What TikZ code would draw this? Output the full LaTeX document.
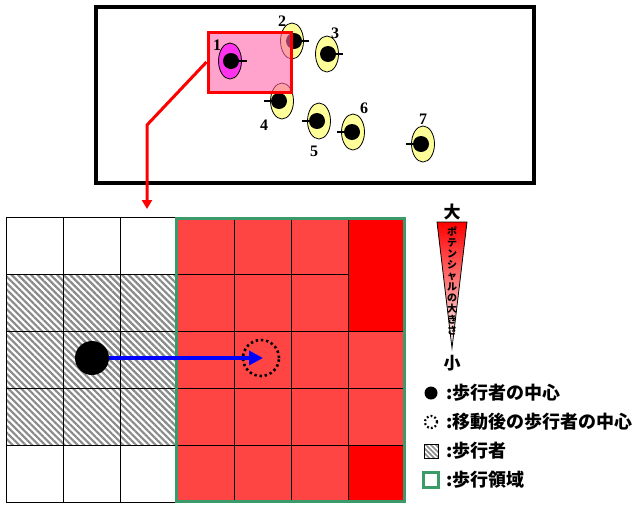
\documentclass[tikz,border=0pt]{standalone}
\usepackage{fontspec}
\setmainfont{Liberation Serif}
\newfontfamily\jp{Noto Sans CJK JP}
\usetikzlibrary{patterns,patterns.meta,shapes.geometric,arrows.meta}
\definecolor{cellred}{HTML}{FF4444}
\definecolor{pedyellow}{HTML}{FFFF99}
\definecolor{pedmag}{HTML}{FF33EE}
\definecolor{areagreen}{HTML}{3A9A6A}
\definecolor{selpink}{RGB}{255,100,170}
\definecolor{hatchgray}{HTML}{8A8A8A}
\tikzset{
  ped/.style={ellipse, draw=black, line width=0.8pt, minimum width=23, minimum height=36, inner sep=0pt},
  pdot/.style={circle, fill=black, minimum size=16, inner sep=0pt},
  tick/.style={black, line width=1.5pt},
  numlabel/.style={font=\bfseries\fontsize{16}{16}\selectfont, inner sep=0pt},
  gridcell/.style={draw=black, line width=0.8pt},
  hatchcell/.style={gridcell, pattern={Lines[angle=-45,distance=4.6pt,line width=2.2pt]}, pattern color=hatchgray},
  legtext/.style={anchor=west, inner sep=0pt, font=\jp\bfseries\fontsize{18}{18}\selectfont},
}
\begin{document}
\begin{tikzpicture}[x=1pt,y=-1pt]
\useasboundingbox (0,0) rectangle (637,504);
\fill[white] (0,0) rectangle (637,504);
% top frame
\draw[black, line width=3.5pt] (96,7) rectangle (534,183);
% pedestrians 2..7
\foreach \n/\x/\y/\dx/\dir in {2/292/41/2/1, 3/327/54/1/1, 4/282/101/-3/-1, 5/319/121/-2/-1, 6/353/132/-1/-1, 7/423/144/-2/-1}{
  \node[ped, fill=pedyellow] (p\n) at (\x,\y) {};
  \node[pdot] (d\n) at (\x+\dx,\y) {};
  \draw[tick] (d\n.center) -- ++(\dir*15,0);
}
% selection rectangle
\node[draw=red, line width=3pt, fill=selpink, fill opacity=0.6, minimum width=83, minimum height=60, inner sep=0pt] (sel) at (249.5,62) {};
% pedestrian 1
\node[ped, fill=pedmag] (p1) at (230,61) {};
\node[pdot] (d1) at (231,61) {};
\draw[tick] (d1.center) -- ++(16,0);
% labels
\foreach \n/\x/\y in {1/217/45, 2/282/21, 3/335/33, 4/264/125, 5/314/151, 6/364/108, 7/423/119}{
  \node[numlabel] (l\n) at (\x,\y) {\n};
}
% red connector
\coordinate (gridtop) at (147,209);
\draw[red, line width=3pt, -{Triangle[length=9,width=10]}] (sel.west) -- (147,125) -- (gridtop);
% grid: left part
\foreach \c in {0,1,2}{
  \foreach \r in {0,4}{
    \draw[gridcell, fill=white] (6+57*\c,217+57*\r) rectangle ++(57,57);
  }
  \foreach \r in {1,2,3}{
    \fill[white] (6+57*\c,217+57*\r) rectangle ++(57,57);
    \draw[hatchcell] (6+57*\c,217+57*\r) rectangle ++(57,57);
  }
}
% grid: right part
\foreach \c in {3,4,5}{
  \foreach \r in {0,1,2,3,4}{
    \draw[gridcell, fill=cellred] (6+57*\c,217+57*\r) rectangle ++(57,57);
  }
}
\draw[gridcell, fill=red] (348,217) rectangle (405,331);
\draw[gridcell, fill=cellred] (348,331) rectangle (405,388);
\draw[gridcell, fill=cellred] (348,388) rectangle (405,445);
\draw[gridcell, fill=red] (348,445) rectangle (405,502);
\draw[areagreen, line width=3pt] (176,218) rectangle (404,501);
% pedestrian center and move
\node[circle, fill=black, minimum size=34, inner sep=0pt] (pc) at (92,358) {};
\node[circle, draw=black, line width=2.6pt, dash pattern=on 2.4pt off 2.8pt, minimum size=36, inner sep=0pt] (dc) at (261,358) {};
\draw[blue, line width=4pt, -{Triangle[length=14,width=14]}] (pc.east) -- ([xshift=2]dc.center);
% potential bar
\shade[top color=red, bottom color=white] (437,222) -- (467,222) -- (452,348) -- cycle;
\draw[black, line width=0.8pt] (437,222) -- (467,222) -- (452,348) -- cycle;
\node[inner sep=0pt, align=center, font=\jp\bfseries\fontsize{10}{11}\selectfont] (ptxt) at (452,281) {ポ\\テ\\ン\\シ\\ャ\\ル\\の\\大\\き\\さ};
\node[inner sep=0pt, font=\jp\bfseries\fontsize{17}{17}\selectfont] (big) at (452,212) {大};
\node[inner sep=0pt, font=\jp\bfseries\fontsize{17}{17}\selectfont] (small) at (452,363) {小};
% legend
\node[circle, fill=black, minimum size=13, inner sep=0pt] (lg1) at (431,393) {};
\node[legtext] (lt1) at (446,393) {:歩行者の中心};
\node[circle, draw=black, line width=2.2pt, dash pattern=on 1.8pt off 2.2pt, minimum size=12, inner sep=0pt] (lg2) at (431,422) {};
\node[legtext] (lt2) at (446,422) {:移動後の歩行者の中心};
\node[draw=black, line width=0.6pt, pattern={Lines[angle=-45,distance=3.5pt,line width=1.6pt]}, pattern color=hatchgray, minimum size=14, inner sep=0pt] (lg3) at (431,451) {};
\node[legtext] (lt3) at (446,451) {:歩行者};
\node[draw=areagreen, line width=2.5pt, fill=white, minimum size=15, inner sep=0pt] (lg4) at (431,480) {};
\node[legtext] (lt4) at (446,480) {:歩行領域};
\end{tikzpicture}
\end{document}
